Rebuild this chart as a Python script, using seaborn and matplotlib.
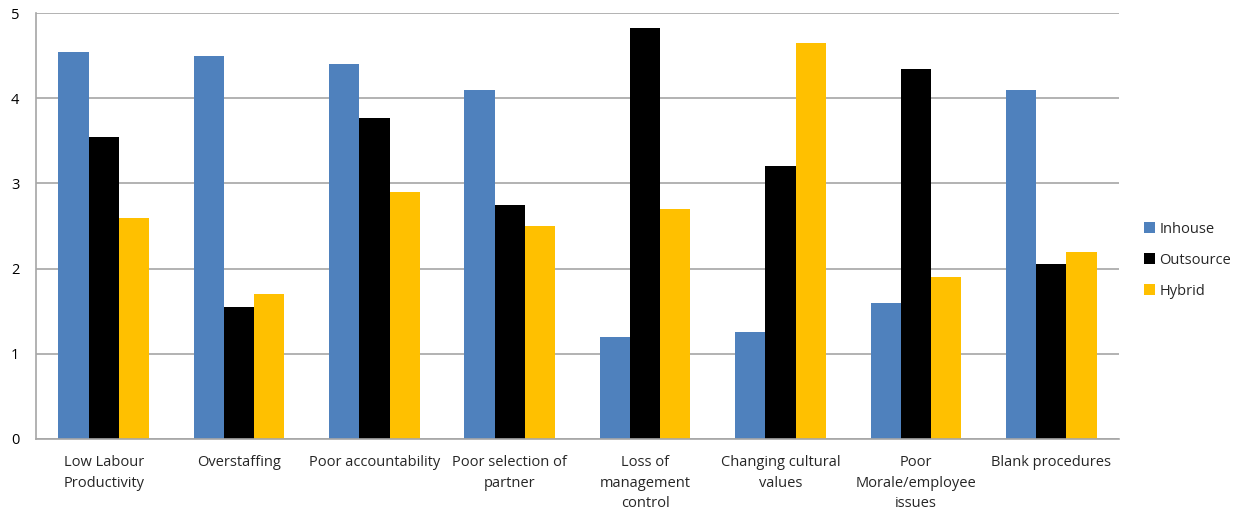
import matplotlib
matplotlib.use("Agg")
import matplotlib.pyplot as plt
import seaborn as sns
import pandas as pd

categories = [
    "Low Labour\nProductivity",
    "Overstaffing",
    "Poor accountability",
    "Poor selection of\npartner",
    "Loss of\nmanagement\ncontrol",
    "Changing cultural\nvalues",
    "Poor\nMorale/employee\nissues",
    "Blank procedures",
]
series_names = ["Inhouse", "Outsource", "Hybrid"]
inhouse = [4.55, 4.5, 4.4, 4.1, 1.2, 1.25, 1.6, 4.1]
outsource = [3.55, 1.55, 3.77, 2.75, 4.83, 3.2, 4.35, 2.05]
hybrid = [2.6, 1.7, 2.9, 2.5, 2.7, 4.65, 1.9, 2.2]
y_ticks = [0, 1, 2, 3, 4, 5]
colors = ["#4F81BD", "#000000", "#FFC000"]

df = pd.DataFrame({
    "category": categories * 3,
    "series": [series_names[0]] * 8 + [series_names[1]] * 8 + [series_names[2]] * 8,
    "value": inhouse + outsource + hybrid,
})

sns.set_style("white")
plt.rcParams["font.family"] = ["Open Sans", "DejaVu Sans"]

fig = plt.figure(figsize=(12.48, 5.14), dpi=100)
ax = fig.add_axes([0.0288, 0.1465, 0.8678, 0.8275])

sns.barplot(data=df, x="category", y="value", hue="series", order=categories,
            hue_order=series_names, palette=colors, width=0.67, gap=0,
            saturation=1, ax=ax, legend=True, linewidth=0)

ax.set_xlim(-0.5, len(categories) - 0.5)
ax.set_ylim(0, 5)
ax.set_yticks(y_ticks)
ax.set_yticklabels([str(t) for t in y_ticks], fontsize=10.5, color="#000000")
ax.set_xlabel("")
ax.set_ylabel("")
ax.tick_params(axis="y", length=0, pad=12)
ax.tick_params(axis="x", length=0, pad=12, labelsize=10.5)
for lbl in ax.get_xticklabels():
    lbl.set_linespacing(1.5)

ax.set_axisbelow(True)
ax.yaxis.grid(True, color="#A6A6A6", linewidth=1.2)
ax.xaxis.grid(False)
for side in ["top", "right"]:
    ax.spines[side].set_visible(False)
for side in ["left", "bottom"]:
    ax.spines[side].set_color("#A6A6A6")
    ax.spines[side].set_linewidth(1.2)

ax.legend(loc="center left", bbox_to_anchor=(0.912, 0.494), bbox_transform=fig.transFigure,
          frameon=False, fontsize=10.5, handlelength=0.75, handleheight=0.75,
          handletextpad=0.3, labelspacing=1.1, borderaxespad=0)

fig.savefig("out.png", dpi=100)
